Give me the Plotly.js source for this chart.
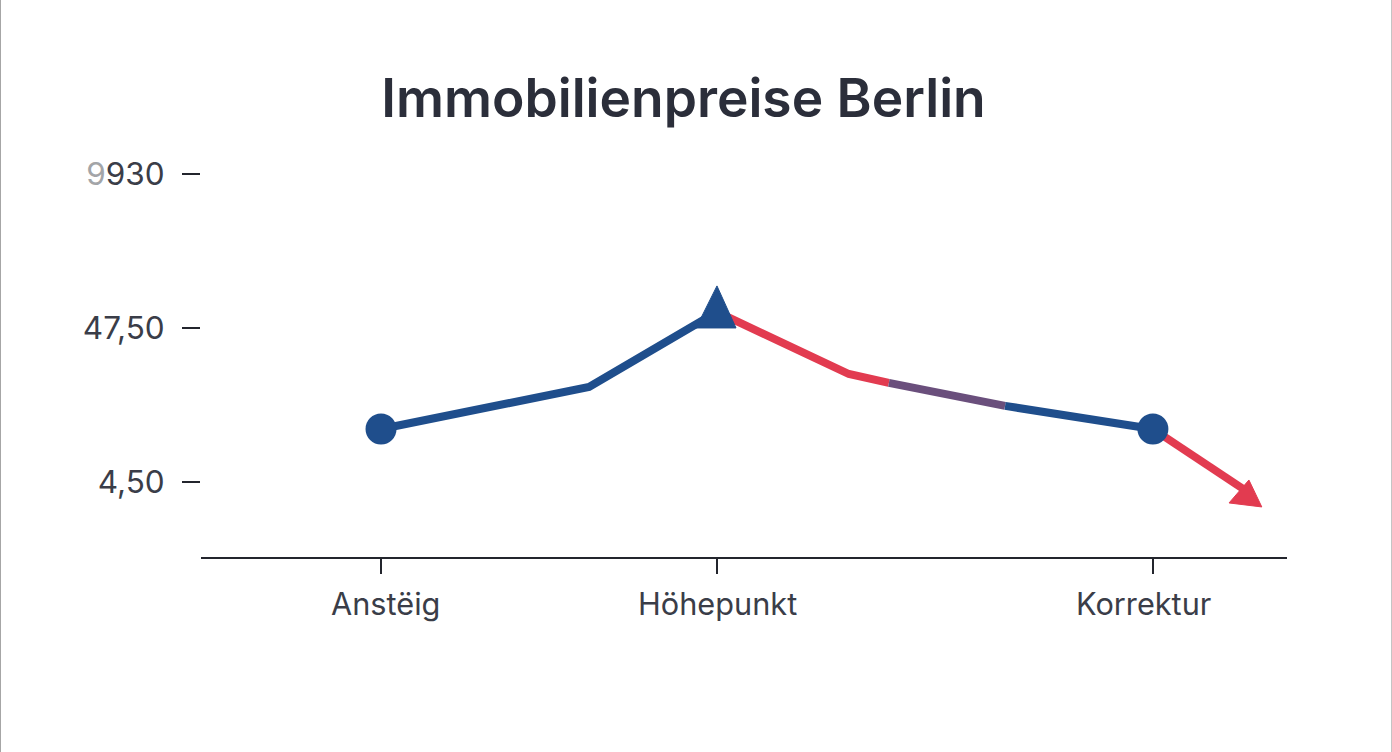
<!DOCTYPE html>
<html>
<head>
<meta charset="utf-8">
<script src="https://cdn.plot.ly/plotly-3.0.1.min.js"></script>
<style>html,body{margin:0;padding:0;background:#fff}#chart{width:1392px;height:752px}</style>
</head>
<body>
<div id="chart"></div>
<script>
var chartTitle = "Immobilienpreise Berlin";
var xTickVals = [0, 12, 27.57];
var xTickText = ["Anstëig", "Höhepunkt", "Korrektur"];
var xLabelShift = [4, 1, -9];
var yTickVals = [1, 2, 3];
var yTickText = ["4,50", "47,50", '<span style="fill:#a3a5a8">9</span>930'];
var riseX = [0, 7.43, 12];
var riseY = [1.344, 1.617, 2.104];
var fallRedX = [12, 16.71, 18.14];
var fallRedY = [2.104, 1.701, 1.643];
var fallMixX = [18.14, 22.29];
var fallMixY = [1.643, 1.494];
var fallBlueX = [22.29, 27.57];
var fallBlueY = [1.494, 1.344];
var dropX = [27.57, 31.0];
var dropY = [1.344, 0.93];
var circleX = [0, 27.57];
var circleY = [1.344, 1.344];
var peakX = [11.25, 12, 12.68, 11.25];
var peakY = [2.0, 2.273, 2.0, 2.0];
var headX = [31.46, 31.0, 30.29, 31.46];
var headY = [0.838, 1.013, 0.864, 0.838];

var blue = "#1f4e8c", red = "#e23b50", mix = "#6a4f7c", ink = "#2b2e3a", axisInk = "#23252d", labelInk = "#3a3d48";
function seg(x, y, c) {
  return {x: x, y: y, mode: "lines", hoverinfo: "skip",
    line: {color: c, width: 8, shape: "linear"}};
}
function poly(x, y, c) {
  return {x: x, y: y, mode: "lines", fill: "toself", fillcolor: c,
    hoverinfo: "skip", line: {color: c, width: 1}};
}
var traces = [
  seg(riseX, riseY, blue),
  seg(fallRedX, fallRedY, red),
  seg(fallMixX, fallMixY, mix),
  seg(fallBlueX, fallBlueY, blue),
  seg(dropX, dropY, red),
  poly(headX, headY, red),
  poly(peakX, peakY, blue),
  {x: circleX, y: circleY, mode: "markers", hoverinfo: "skip",
    marker: {symbol: "circle", size: 31, color: blue}}
];
var xAnnotations = xTickText.map(function (t, i) {
  return {text: t, x: xTickVals[i], xref: "x", y: 0, yref: "paper",
    yshift: -46, xshift: xLabelShift[i], xanchor: "center", yanchor: "middle",
    showarrow: false, font: {size: 30.7, color: labelInk}};
});
var plotW = 1086;
var layout = {
  width: 1392, height: 752, showlegend: false,
  paper_bgcolor: "#ffffff", plot_bgcolor: "#ffffff",
  margin: {l: 201, r: 105, t: 100, b: 195, pad: 0},
  font: {family: "Inter, 'Noto Sans', sans-serif", color: ink},
  title: {text: chartTitle, font: {family: "Inter, sans-serif", size: 53.3, weight: 600, color: ink},
    x: 683.5 / 1392, xanchor: "center", xref: "container", y: 1 - 98 / 752, yanchor: "middle", yref: "container"},
  xaxis: {
    range: [-6.43, 32.36], tickmode: "array", tickvals: xTickVals, showticklabels: false,
    showgrid: false, zeroline: false, showline: true, linecolor: axisInk, linewidth: 2,
    ticks: "outside", ticklen: 15, tickwidth: 2, tickcolor: axisInk
  },
  yaxis: {
    range: [0.513, 3.48], tickmode: "array", tickvals: yTickVals, ticktext: yTickText,
    showgrid: false, zeroline: false, showline: false,
    ticks: "outside", ticklen: 18, tickwidth: 2, tickcolor: axisInk,
    tickfont: {size: 31.5, color: labelInk}, ticklabelstandoff: 11
  },
  annotations: xAnnotations,
  shapes: [
    {type: "line", xref: "paper", yref: "paper", x0: -200.5 / plotW, x1: -200.5 / plotW, y0: -0.45, y1: 1.25,
      line: {color: "#a6a6a6", width: 1}},
    {type: "line", xref: "paper", yref: "paper", x0: 1190.5 / plotW, x1: 1190.5 / plotW, y0: -0.45, y1: 1.25,
      line: {color: "#c4c4c4", width: 1}}
  ]
};
Plotly.newPlot("chart", traces, layout, {displayModeBar: false, responsive: false});
</script>
</body>
</html>
